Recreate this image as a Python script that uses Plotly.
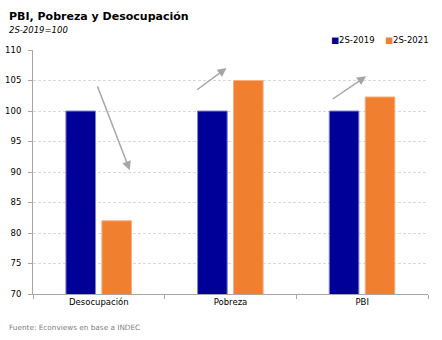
import plotly.graph_objects as go

categories = ["Desocupación", "Pobreza", "PBI"]
s2019 = [100, 100, 100]
s2021 = [82, 105, 102.3]
series_names = ["2S-2019", "2S-2021"]
colors = ["#000099", "#F08030"]
yticks = [70, 75, 80, 85, 90, 95, 100, 105, 110]

FONT = "DejaVu Sans"

W, H = 442, 340
L, R, T, B = 33, 14, 50, 46
pw, ph = W - L - R, H - T - B
def px(x): return (x - L) / pw
def py(y): return (H - B - y) / ph

fig = go.Figure()
fig.add_trace(go.Bar(x=categories, y=s2019, name=series_names[0], width=0.225, offset=-0.25,
                     marker=dict(color=colors[0], line=dict(color="#8080d0", width=1))))
fig.add_trace(go.Bar(x=categories, y=s2021, name=series_names[1], width=0.225, offset=0.023,
                     marker=dict(color=colors[1], line=dict(color="#f8b080", width=1))))

arrows = [(-0.015, 104.3, 0.235, 90.3), (0.735, 103.3, 0.97, 107.05), (1.765, 101.8, 2.03, 105.7)]
for x0, y0, x1, y1 in arrows:
    fig.add_annotation(x=x1, y=y1, ax=x0, ay=y0, xref="x", yref="y", axref="x", ayref="y",
                       showarrow=True, arrowhead=2, arrowsize=1.2, arrowwidth=1.5,
                       arrowcolor="#a6a6a6", text="")

def text_ann(txt, x, y, size, color="#000", anchor="left"):
    fig.add_annotation(x=px(x), y=py(y), xref="paper", yref="paper", text=txt, showarrow=False,
                       xanchor=anchor, yanchor="middle", borderpad=0,
                       font=dict(size=size, color=color, family=FONT))

text_ann("<b>PBI, Pobreza y Desocupación</b>", 8, 17, 11)
text_ann("<i>2S-2019=100</i>", 8, 30, 8.5)
text_ann("Fuente: Econviews en base a INDEC", 8, 327, 7.3, "#808080")

# legend as text items
legend_x = [330, 384]
for name, c, lx in zip(series_names, colors, legend_x):
    text_ann(f'<span style="color:{c}">■</span>{name}', lx, 40, 8.5)

fig.update_layout(
    width=W, height=H, margin=dict(l=L, r=R, t=T, b=B, autoexpand=False),
    plot_bgcolor="white", paper_bgcolor="white",
    font=dict(family=FONT, size=8.5, color="#000"),
    showlegend=False,
)
fig.update_xaxes(showline=True, linecolor="#a6a6a6", linewidth=1, ticks="outside", tickson="boundaries",
                 ticklen=4, tickcolor="#a6a6a6", showgrid=False, range=[-0.5, 2.5], automargin=False)
fig.update_yaxes(range=[70, 110], tickvals=yticks, showline=True, linecolor="#a6a6a6", linewidth=1,
                 ticks="outside", ticklen=4, tickcolor="#a6a6a6", showgrid=True, gridcolor="#d9d9d9",
                 griddash="3px,2px", gridwidth=1, zeroline=False, ticklabelstandoff=5,
                 tickfont=dict(size=8.5), automargin=False)

fig.write_html("out.html")
